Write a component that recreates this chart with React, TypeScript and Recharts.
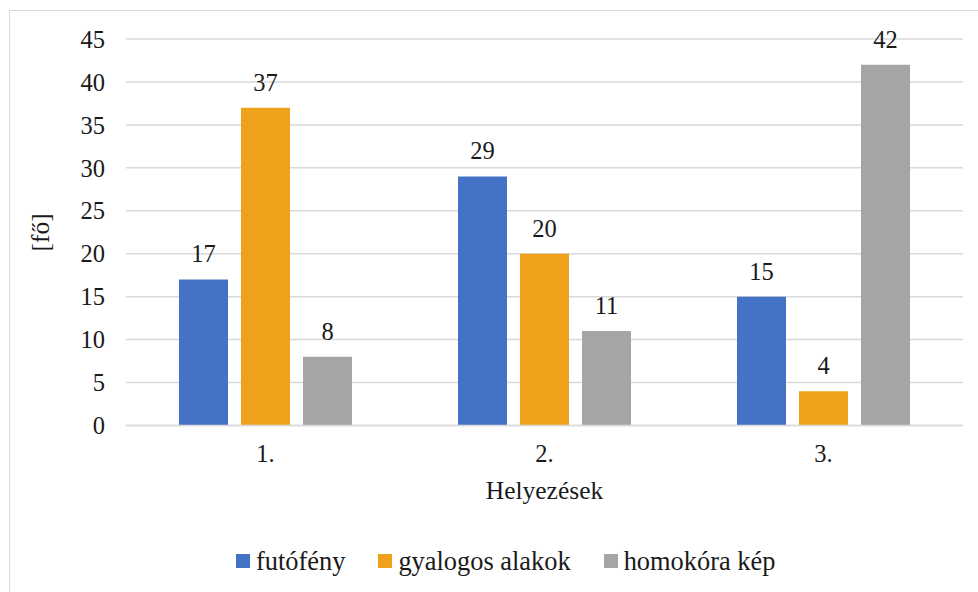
import React from 'react'
import { BarChart, Bar, XAxis, YAxis, CartesianGrid, Legend, LabelList } from 'recharts'

const categories = ['1.', '2.', '3.']
const futofeny = [17, 29, 15]
const gyalogos = [37, 20, 4]
const homokora = [8, 11, 42]
const yTicks = [0, 5, 10, 15, 20, 25, 30, 35, 40, 45]

const seriesList = [
  { key: 'futofeny', name: 'futófény', color: '#4472C4' },
  { key: 'gyalogos', name: 'gyalogos alakok', color: '#EEA21C' },
  { key: 'homokora', name: 'homokóra kép', color: '#A5A5A5' },
]

const data = categories.map((c, i) => ({
  cat: c,
  futofeny: futofeny[i],
  gyalogos: gyalogos[i],
  homokora: homokora[i],
}))

const FONT = '"Liberation Serif", "Times New Roman", serif'
const TEXT = '#1a1a1a'

function LegendBox() {
  return (
    <div style={{ display: 'flex', alignItems: 'center', marginLeft: 236, fontFamily: FONT, fontSize: 26.4, color: TEXT, lineHeight: '30px' }}>
      {seriesList.map((s, i) => (
        <div key={s.key} style={{ display: 'flex', alignItems: 'center', marginLeft: i === 0 ? 0 : 33 }}>
          <span style={{ width: 14, height: 14, background: s.color, display: 'inline-block', marginRight: 6 }} />
          <span>{s.name}</span>
        </div>
      ))}
    </div>
  )
}

export default function App() {
  return (
    <div style={{ position: 'absolute', left: 0, top: 0, width: 978, height: 592, background: '#fff', overflow: 'hidden' }}>
      <div style={{ position: 'absolute', left: 9, top: 10, width: 980, height: 600, border: '1px solid #d9d9d9', boxSizing: 'border-box' }} />
      <div style={{ position: 'absolute', left: 0, top: 0 }}>
        <BarChart
          width={978}
          height={592}
          data={data}
          margin={{ top: 39, right: 15, left: 25, bottom: 86.5 }}
          barSize={49}
          barGap={13}
        >
          <CartesianGrid vertical={false} stroke="#d9d9d9" strokeWidth={1.5} />
          <XAxis
            dataKey="cat"
            height={80}
            axisLine={{ stroke: '#d9d9d9', strokeWidth: 1.5 }}
            tickLine={false}
            tickMargin={13.5}
            tick={{ fontFamily: FONT, fontSize: 24.5, fill: TEXT }}
            label={{ value: 'Helyezések', position: 'insideBottom', offset: 6.5, style: { fontFamily: FONT, fontSize: 25.5, fill: TEXT } }}
          />
          <YAxis
            width={101}
            domain={[0, 45]}
            ticks={yTicks}
            axisLine={false}
            tickLine={false}
            tickMargin={15}
            tick={{ fontFamily: FONT, fontSize: 24.5, fill: TEXT }}
            label={{ value: '[fő]', angle: -90, position: 'insideLeft', offset: 15, style: { fontFamily: FONT, fontSize: 25.5, fill: TEXT, textAnchor: 'middle' } }}
          />
          <Legend
            layout="horizontal"
            verticalAlign="middle"
            content={() => <LegendBox />}
            wrapperStyle={{ position: 'absolute', top: 546, left: 0, width: 978 }}
          />
          {seriesList.map((s) => (
            <Bar key={s.key} dataKey={s.key} name={s.name} fill={s.color} isAnimationActive={false}>
              <LabelList dataKey={s.key} position="top" offset={17} style={{ fontFamily: FONT, fontSize: 24.5, fill: TEXT }} />
            </Bar>
          ))}
        </BarChart>
      </div>
    </div>
  )
}
